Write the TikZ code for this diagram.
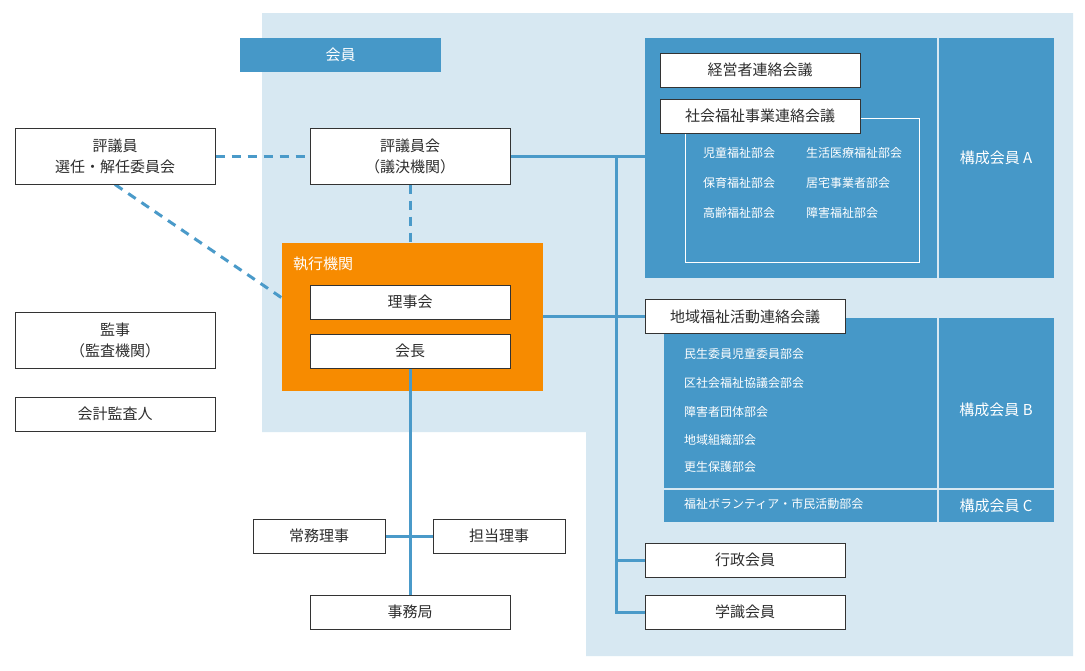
\documentclass[tikz,border=0pt]{standalone}
\usepackage{fontspec}
\setmainfont{Noto Sans CJK JP}
\newfontfamily\jp{Noto Sans CJK JP}
\usetikzlibrary{calc}
\definecolor{lightbg}{HTML}{D7E8F2}
\definecolor{panelblue}{HTML}{4698C8}
\definecolor{lineblue}{HTML}{4A9AC9}
\definecolor{orangebox}{HTML}{F78B00}
\definecolor{txt}{HTML}{2E2E2E}
\definecolor{boxline}{HTML}{333333}
\pgfdeclarelayer{background}
\pgfdeclarelayer{lines}
\pgfsetlayers{background,lines,main}
\tikzset{
  box/.style={draw=boxline, fill=white, line width=1pt, minimum width=200pt, minimum height=34pt,
    inner sep=0pt, font=\jp\fontsize{15}{21}\selectfont, text=txt, align=center},
  tallbox/.style={box, minimum height=56pt},
  smallbox/.style={box, minimum width=132pt},
  panel/.style={fill=panelblue, draw=none, inner sep=0pt},
  item/.style={anchor=west, inner sep=0pt, text=white, font=\jp\fontsize{12}{14}\selectfont},
  paneltext/.style={inner sep=0pt, text=white, font=\jp\fontsize{15}{18}\selectfont},
  conn/.style={draw=lineblue, line width=3pt},
  dconn/.style={draw=lineblue, line width=3pt, dash pattern=on 9pt off 7pt},
  divider/.style={draw=lightbg, line width=1.5pt},
}
\begin{document}
\begin{tikzpicture}[x=1pt,y=-1pt]
\useasboundingbox (0,0) rectangle (1085,670);
\begin{pgfonlayer}{background}
  \fill[white] (0,0) rectangle (1085,670);
  \fill[lightbg] (262,13) -- (1073,13) -- (1073,656) -- (586,656) -- (586,432) -- (262,432) -- cycle;
  % member bar
  \node[panel, minimum width=201pt, minimum height=34pt, text=white,
        font=\jp\fontsize{15}{18}\selectfont] (kaiin) at (340.5,55) {会員};
  % panel A
  \node[panel, minimum width=409pt, minimum height=240pt] (panelA) at (849.5,158) {};
  \draw[divider] (938,38) -- (938,278);
  \draw[white, line width=1pt] (685,118) rectangle (919,262);
  % panel B
  \node[panel, minimum width=390pt, minimum height=204pt] (panelB) at (859,420) {};
  \draw[divider] (938,318) -- (938,522);
  \draw[divider] (664,489) -- (1054,489);
  % orange executive box
  \node[fill=orangebox, minimum width=261pt, minimum height=148pt, inner sep=0pt] (exec) at (412.5,316.5) {};
\end{pgfonlayer}

% panel texts
\node[paneltext] (kA) at (996,158) {構成会員 A};
\node[paneltext] (kB) at (996,410) {構成会員 B};
\node[paneltext] (kC) at (996,505.5) {構成会員 C};

\node[item] (a1) at (703,153) {児童福祉部会};
\node[item] (a2) at (703,183) {保育福祉部会};
\node[item] (a3) at (703,213) {高齢福祉部会};
\node[item] (a4) at (806,153) {生活医療福祉部会};
\node[item] (a5) at (806,183) {居宅事業者部会};
\node[item] (a6) at (806,213) {障害福祉部会};

\node[item] (b1) at (684,354) {民生委員児童委員部会};
\node[item] (b2) at (684,383) {区社会福祉協議会部会};
\node[item] (b3) at (684,412) {障害者団体部会};
\node[item] (b4) at (684,440) {地域組織部会};
\node[item] (b5) at (684,467) {更生保護部会};
\node[item] (c1) at (684,504) {福祉ボランティア・市民活動部会};

\node[anchor=west, inner sep=0pt, text=white, font=\jp\fontsize{15}{18}\selectfont] (execlabel) at (293,264) {執行機関};

% boxes
\node[tallbox] (hyogiin) at (115,156) {評議員\\選任・解任委員会};
\node[tallbox] (hyogiinkai) at (410,156) {評議員会\\（議決機関）};
\node[box] (rijikai) at (410,302) {理事会};
\node[box] (kaicho) at (410,351) {会長};
\node[tallbox] (kanji) at (115,340) {監事\\（監査機関）};
\node[box] (kaikei) at (115,414) {会計監査人};
\node[smallbox] (jomu) at (319,536) {常務理事};
\node[smallbox] (tanto) at (499,536) {担当理事};
\node[box] (jimu) at (410,612) {事務局};
\node[box] (keiei) at (760,70) {経営者連絡会議};
\node[box] (shakai) at (760,116) {社会福祉事業連絡会議};
\node[box] (chiiki) at (745,316.5) {地域福祉活動連絡会議};
\node[box] (gyosei) at (745,560) {行政会員};
\node[box] (gakushiki) at (745,612) {学識会員};

\coordinate (trunktop) at (616,156);
\coordinate (diagend) at (282,298);

\begin{pgfonlayer}{lines}
  \draw[dconn] (hyogiin.east) -- (hyogiinkai.west);
  \draw[dconn] (hyogiinkai.south) -- (hyogiinkai.south |- exec.north);
  \draw[dconn] (hyogiin.south) -- (diagend);
  \draw[conn] (hyogiinkai.east) -- (hyogiinkai.east -| panelA.west);
  \draw[conn] (trunktop) |- (gakushiki.west);
  \draw[conn] (trunktop |- gyosei.west) -- (gyosei.west);
  \draw[conn] (exec.east) -- (chiiki.west);
  \draw[conn] (kaicho.south) -- (jimu.north);
  \draw[conn] (jomu.east) -- (tanto.west);
\end{pgfonlayer}
\end{tikzpicture}
\end{document}
